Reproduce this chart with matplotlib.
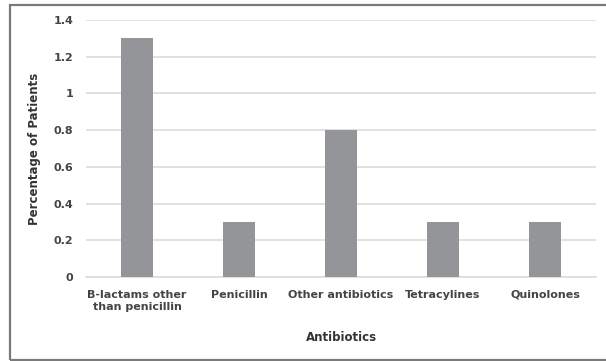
import matplotlib.pyplot as plt
from matplotlib.patches import Rectangle

categories = ["B-lactams other\nthan penicillin", "Penicillin", "Other antibiotics",
              "Tetracylines", "Quinolones"]
values = [1.3, 0.3, 0.8, 0.3, 0.3]
yticks = [0, 0.2, 0.4, 0.6, 0.8, 1.0, 1.2, 1.4]
ytick_labels = ["0", "0.2", "0.4", "0.6", "0.8", "1", "1.2", "1.4"]

W, H = 606, 361
fig = plt.figure(figsize=(W / 100, H / 100), dpi=100)
fig.patch.set_facecolor("white")

# outer frame around the chart
fig.add_artist(Rectangle((10 / W, 1 / H), 1.2, (H - 6) / H, transform=fig.transFigure,
                         fill=False, edgecolor="#7a7a7a", linewidth=1.6))

ax = fig.add_axes([86 / W, 1 - 277 / H, 510 / W, 257 / H])
x = range(len(categories))
ax.bar(x, values, width=0.32, color="#939598", zorder=3)

ax.set_xlim(-0.5, len(categories) - 0.5)
ax.set_ylim(0, 1.4)
ax.set_yticks(yticks)
ax.set_yticklabels(ytick_labels)
ax.set_xticks(list(x))
ax.set_xticklabels(categories, linespacing=1.25)
ax.grid(axis="y", color="#dcdcdc", linewidth=1.2, zorder=0)
for s in ["top", "right", "left"]:
    ax.spines[s].set_visible(False)
ax.spines["bottom"].set_color("#dcdcdc")
ax.spines["bottom"].set_linewidth(1.2)
ax.tick_params(length=0, labelsize=8, colors="#444444")
ax.tick_params(axis="x", pad=9)
ax.tick_params(axis="y", pad=9)
for lab in ax.get_xticklabels() + ax.get_yticklabels():
    lab.set_fontweight("bold")

ax.set_xlabel("Antibiotics", fontsize=8.5, fontweight="bold", color="#333333", labelpad=14)
ax.set_ylabel("Percentage of Patients", fontsize=8.5, fontweight="bold", color="#333333", labelpad=9)

fig.savefig("out.png", dpi=100)
